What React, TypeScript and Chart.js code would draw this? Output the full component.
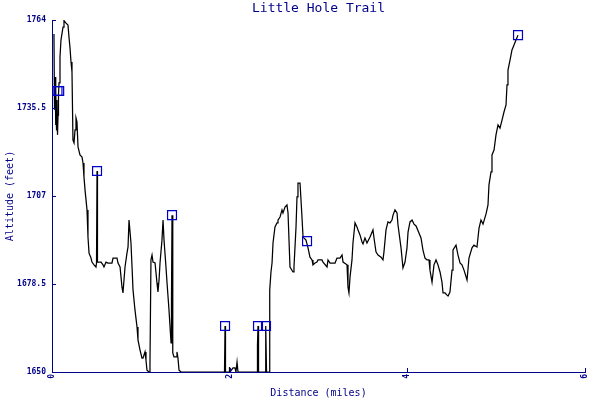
import React, { useEffect, useRef } from "react";
import { Chart, registerables } from "chart.js";

Chart.register(...registerables);

const TITLE = "Little Hole Trail";
const X_TITLE = "Distance (miles)";
const Y_TITLE = "Altitude (feet)";

const xTicks = [0, 2, 4, 6];
const yTicks = [1650, 1678.5, 1707, 1735.5, 1764];

const distances = [
  0.022, 0.028, 0.034, 0.039, 0.045, 0.051, 0.056, 0.062, 0.068, 0.073,
  0.079, 0.090, 0.101, 0.124, 0.135, 0.158, 0.180, 0.191, 0.203, 0.214,
  0.225, 0.236, 0.248, 0.259, 0.270, 0.281, 0.293, 0.315, 0.338, 0.349,
  0.360, 0.372, 0.394, 0.405, 0.417, 0.439, 0.450, 0.473, 0.495, 0.501,
  0.507, 0.512, 0.552, 0.574, 0.585, 0.608, 0.630, 0.675, 0.687, 0.732,
  0.743, 0.766, 0.788, 0.799, 0.822, 0.844, 0.856, 0.867, 0.889, 0.901,
  0.912, 0.934, 0.957, 0.968, 0.991, 1.013, 1.024, 1.047, 1.058, 1.069,
  1.092, 1.103, 1.114, 1.126, 1.137, 1.160, 1.182, 1.193, 1.205, 1.216,
  1.238, 1.250, 1.261, 1.283, 1.295, 1.317, 1.340, 1.345, 1.351, 1.357,
  1.362, 1.373, 1.396, 1.407, 1.418, 1.430, 1.452, 1.942, 1.948, 1.953,
  1.993, 1.998, 2.004, 2.038, 2.060, 2.071, 2.083, 2.094, 2.308, 2.313,
  2.319, 2.325, 2.398, 2.403, 2.409, 2.415, 2.443, 2.448, 2.454, 2.465,
  2.477, 2.488, 2.510, 2.533, 2.544, 2.567, 2.589, 2.600, 2.623, 2.645,
  2.657, 2.679, 2.713, 2.724, 2.747, 2.758, 2.769, 2.792, 2.814, 2.826,
  2.859, 2.882, 2.904, 2.927, 2.938, 2.961, 2.983, 2.994, 3.039, 3.051,
  3.096, 3.107, 3.130, 3.186, 3.208, 3.242, 3.265, 3.276, 3.321, 3.332,
  3.343, 3.355, 3.377, 3.388, 3.411, 3.433, 3.445, 3.467, 3.490, 3.501,
  3.523, 3.546, 3.580, 3.613, 3.625, 3.647, 3.670, 3.704, 3.726, 3.737,
  3.760, 3.782, 3.805, 3.827, 3.839, 3.861, 3.884, 3.895, 3.929, 3.951,
  3.974, 3.996, 4.008, 4.030, 4.053, 4.075, 4.098, 4.131, 4.154, 4.176,
  4.199, 4.221, 4.244, 4.255, 4.278, 4.300, 4.323, 4.345, 4.368, 4.390,
  4.402, 4.424, 4.447, 4.458, 4.480, 4.503, 4.514, 4.548, 4.570, 4.593,
  4.615, 4.638, 4.672, 4.694, 4.728, 4.750, 4.784, 4.807, 4.829, 4.852,
  4.886, 4.908, 4.919, 4.942, 4.953, 4.976, 4.998, 5.021, 5.043, 5.066,
  5.088, 5.111, 5.122, 5.133, 5.156, 5.178, 5.201, 5.223, 5.246,
];

const altitudes = [
  1759.5, 1734.9, 1745.5, 1730.0, 1741.3, 1728.4, 1738.1, 1726.8, 1733.2, 1739.7,
  1743.6, 1752.0, 1757.5, 1761.7, 1763.8, 1763.0, 1762.4, 1758.5, 1754.9, 1750.4,
  1747.2, 1725.1, 1724.2, 1728.4, 1732.3, 1731.0, 1722.9, 1720.3, 1719.6, 1717.7,
  1713.2, 1708.9, 1702.5, 1693.7, 1688.5, 1686.9, 1685.6, 1684.7, 1684.0, 1685.3,
  1715.1, 1685.6, 1685.6, 1684.7, 1684.0, 1685.6, 1685.3, 1685.3, 1686.9, 1686.9,
  1685.3, 1684.0, 1677.5, 1675.6, 1684.0, 1688.5, 1690.5, 1699.2, 1691.8, 1684.0,
  1676.6, 1670.1, 1664.6, 1660.4, 1657.1, 1654.5, 1654.5, 1656.5, 1653.9, 1650.6,
  1650.0, 1652.9, 1686.3, 1687.9, 1685.6, 1685.3, 1678.8, 1675.9, 1679.8, 1685.3,
  1692.7, 1699.2, 1692.7, 1684.0, 1678.8, 1670.1, 1659.4, 1673.3, 1700.8, 1656.5,
  1656.2, 1654.9, 1654.9, 1656.5, 1654.5, 1650.6, 1650.0, 1650.0, 1664.9, 1650.0,
  1650.0, 1651.6, 1650.0, 1651.3, 1651.3, 1650.0, 1653.2, 1650.0, 1650.0, 1658.7,
  1664.9, 1650.0, 1650.0, 1658.7, 1664.9, 1650.0, 1650.0, 1662.6, 1676.6, 1682.4,
  1685.3, 1691.8, 1697.0, 1698.3, 1699.2, 1700.2, 1702.5, 1701.5, 1703.4, 1704.1,
  1701.5, 1684.0, 1682.4, 1684.0, 1697.0, 1706.7, 1711.2, 1711.2, 1700.2, 1693.7,
  1692.7, 1690.2, 1687.2, 1686.3, 1684.7, 1685.3, 1685.6, 1686.3, 1686.3, 1685.6,
  1684.0, 1686.3, 1685.3, 1685.3, 1686.9, 1686.9, 1687.9, 1685.6, 1684.7, 1677.5,
  1675.6, 1680.8, 1686.3, 1691.8, 1698.3, 1697.0, 1696.0, 1694.4, 1692.1, 1691.5,
  1693.4, 1691.8, 1693.7, 1696.0, 1693.4, 1688.9, 1687.9, 1687.2, 1686.3, 1688.9,
  1696.0, 1698.6, 1698.3, 1699.2, 1700.8, 1702.5, 1701.5, 1697.6, 1690.2, 1683.7,
  1685.6, 1690.2, 1695.3, 1698.6, 1699.2, 1697.9, 1697.3, 1695.0, 1693.4, 1689.5,
  1686.9, 1686.3, 1686.3, 1683.0, 1679.1, 1684.7, 1686.3, 1684.7, 1682.4, 1679.1,
  1675.6, 1675.6, 1674.9, 1674.6, 1675.9, 1683.0, 1689.5, 1691.1, 1687.9, 1685.3,
  1684.7, 1683.0, 1679.8, 1686.9, 1690.2, 1691.1, 1690.5, 1696.6, 1699.2, 1697.9,
  1701.2, 1704.1, 1710.6, 1714.8, 1720.3, 1721.9, 1726.8, 1730.0, 1729.0, 1731.6,
  1734.2, 1736.5, 1743.0, 1747.8, 1751.0, 1754.3, 1755.9, 1757.5, 1759.1,
];

const markerDistances = [0.062, 0.081, 0.507, 1.351, 1.948, 2.319, 2.409, 2.871, 5.246];
const markerAltitudes = [1741.0, 1741.0, 1715.1, 1700.8, 1664.9, 1664.9, 1664.9, 1692.4, 1759.1];

const AXIS_COLOR = "#00008b";
const MARKER_COLOR = "#0000c8";
const FONT = "'DejaVu Sans Mono', monospace";

const innerTicks = {
  id: "innerTicks",
  afterDraw(chart: any) {
    const { ctx, chartArea, scales } = chart;
    ctx.save();
    ctx.strokeStyle = AXIS_COLOR;
    ctx.lineWidth = 1;
    ctx.beginPath();
    for (const v of yTicks) {
      const p = Math.round(scales.y.getPixelForValue(v)) + 0.5;
      ctx.moveTo(chartArea.left, p);
      ctx.lineTo(chartArea.left + 4, p);
    }
    for (const v of xTicks) {
      const p = Math.round(scales.x.getPixelForValue(v)) + 0.5;
      ctx.moveTo(p, chartArea.bottom);
      ctx.lineTo(p, chartArea.bottom - 4);
    }
    ctx.stroke();
    ctx.restore();
  },
};

export default function App() {
  const canvasRef = useRef<HTMLCanvasElement | null>(null);

  useEffect(() => {
    document.body.style.margin = "0";
    const canvas = canvasRef.current;
    if (!canvas) return;
    Chart.defaults.font.family = FONT;

    const profile = distances.map((d, i) => ({ x: d, y: altitudes[i] }));
    const markers = markerDistances.map((d, i) => ({ x: d, y: markerAltitudes[i] }));

    const chart = new Chart(canvas, {
      type: "line",
      data: {
        datasets: [
          {
            data: markers,
            showLine: false,
            pointStyle: "rect",
            pointRadius: 6.3,
            pointBorderWidth: 1.2,
            pointBorderColor: MARKER_COLOR,
            pointBackgroundColor: "rgba(0,0,0,0)",
            borderColor: MARKER_COLOR,
          },
          {
            data: profile,
            borderColor: "#000000",
            borderWidth: 1.25,
            pointRadius: 0,
            tension: 0,
            fill: false,
          },
        ],
      },
      options: {
        responsive: false,
        animation: false,
        layout: { padding: { left: 0, right: 15, top: 0, bottom: 0 } },
        plugins: {
          legend: { display: false },
          tooltip: { enabled: false },
          title: {
            display: true,
            text: TITLE,
            fullSize: false,
            color: AXIS_COLOR,
            font: { family: FONT, size: 13, weight: "normal", lineHeight: 1 },
            padding: { top: 2, bottom: 5 },
          },
        },
        scales: {
          x: {
            type: "linear",
            min: 0,
            max: 6,
            afterBuildTicks: (s: any) => {
              s.ticks = xTicks.map((v) => ({ value: v }));
            },
            afterFit: (s: any) => {
              s.height = 28;
              s.paddingLeft = 0;
              s.paddingRight = 0;
            },
            grid: { display: false, drawTicks: false },
            border: { display: true, color: AXIS_COLOR, width: 1 },
            ticks: {
              color: AXIS_COLOR,
              font: { family: FONT, size: 8, weight: "bold" },
              minRotation: 90,
              maxRotation: 90,
              padding: 2,
              autoSkip: false,
              callback: (v: any) => String(v),
            },
            title: {
              display: true,
              text: X_TITLE,
              color: AXIS_COLOR,
              font: { family: FONT, size: 10, lineHeight: 1.2 },
              padding: { top: 0, bottom: 1 },
            },
          },
          y: {
            type: "linear",
            min: 1650,
            max: 1764,
            afterBuildTicks: (s: any) => {
              s.ticks = yTicks.map((v) => ({ value: v }));
            },
            afterFit: (s: any) => {
              s.width = 52;
              s.paddingTop = 0;
              s.paddingBottom = 0;
            },
            grid: { display: false, drawTicks: false },
            border: { display: true, color: AXIS_COLOR, width: 1 },
            ticks: {
              color: AXIS_COLOR,
              font: { family: FONT, size: 8, weight: "bold" },
              padding: 6,
              autoSkip: false,
              callback: (v: any) => String(v),
            },
            title: {
              display: true,
              text: Y_TITLE,
              color: AXIS_COLOR,
              font: { family: FONT, size: 10, lineHeight: 1.2 },
              padding: { top: 4, bottom: 0 },
            },
          },
        },
      },
      plugins: [innerTicks],
    });

    return () => chart.destroy();
  }, []);

  return (
    <div style={{ position: "absolute", left: 0, top: 0, width: 600, height: 400, background: "#ffffff" }}>
      <canvas ref={canvasRef} width={600} height={400} style={{ width: 600, height: 400 }} />
    </div>
  );
}
